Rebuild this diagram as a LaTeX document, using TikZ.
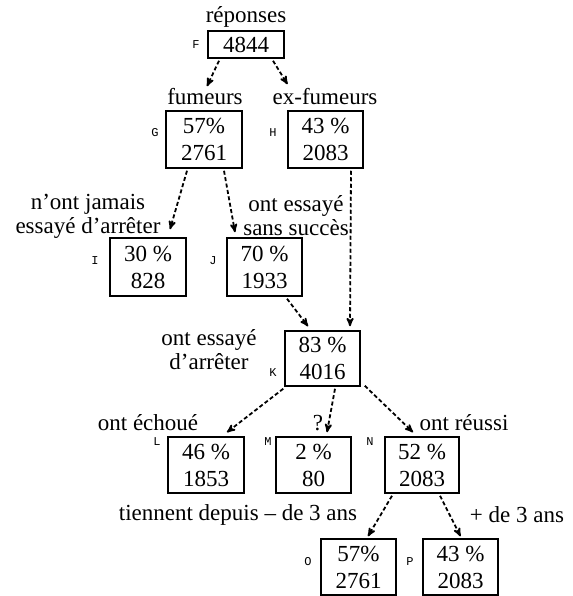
\documentclass[tikz,border=0pt]{standalone}
\usepackage{fontspec}
\setmainfont{Liberation Serif}
\newfontfamily\lettrefont{Liberation Mono}
\usetikzlibrary{arrows}
\usetikzlibrary{calc}

\tikzset{
 boite/.style={draw, line width=1.5pt, minimum width=75pt, minimum height=56pt, inner sep=0pt, align=center, font=\fontsize{23}{27}\selectfont},
 legende/.style={align=center, inner sep=0pt, font=\fontsize{23}{24}\selectfont},
 lettre/.style={inner sep=0pt, font=\lettrefont\fontsize{12}{12}\selectfont},
 fleche/.style={->, >=stealth', line width=1.8pt, dash pattern=on 4pt off 2.5pt},
}

\begin{document}
\begin{tikzpicture}[x=1pt, y=-1pt]
\useasboundingbox (0,0) rectangle (572,596);
% boxes
\node[boite, minimum width=76pt, minimum height=27pt] (F) at (246,44.5) {4844};
\node[boite, minimum width=76pt, minimum height=57pt] (G) at (204,139.5) {57\%\\2761};
\node[boite, minimum height=57pt] (H) at (325.5,139.5) {43 \%\\2083};
\node[boite, minimum width=76pt, minimum height=58pt] (I) at (148,267) {30 \%\\828};
\node[boite, minimum height=58pt] (J) at (264.5,267) {70 \%\\1933};
\node[boite, minimum height=55pt] (K) at (322.5,358.5) {83 \%\\4016};
\node[boite, minimum width=76pt] (L) at (206,465) {46 \%\\1853};
\node[boite] (M) at (313.5,465) {2 \%\\80};
\node[boite, minimum width=74pt] (N) at (422,465) {52 \%\\2083};
\node[boite] (O) at (358.5,567) {57\%\\2761};
\node[boite] (P) at (460.5,567) {43 \%\\2083};
% letters
\node[lettre] (lF) at (196,45) {F};
\node[lettre] (lG) at (155,133) {G};
\node[lettre] (lH) at (273,133) {H};
\node[lettre] (lI) at (95,261) {I};
\node[lettre] (lJ) at (213,261) {J};
\node[lettre] (lK) at (273,373) {K};
\node[lettre] (lL) at (157,442) {L};
\node[lettre] (lM) at (268,442) {M};
\node[lettre] (lN) at (370,442) {N};
\node[lettre] (lO) at (308,562) {O};
\node[lettre] (lP) at (410,562) {P};
% captions
\node[legende] (tRep) at (246,17) {réponses};
\node[legende] (tFum) at (205,97) {fumeurs};
\node[legende] (tExf) at (325,97) {ex-fumeurs};
\node[legende] (tJam) at (88,216) {n'ont jamais\\essayé d'arrêter};
\node[legende] (tSans) at (296,216) {ont essayé\\sans succès};
\node[legende] (tEss) at (209,350) {ont essayé\\d'arrêter};
\node[legende] (tEch) at (148,423) {ont échoué};
\node[legende] (tQ) at (318,423) {?};
\node[legende] (tReu) at (464,423) {ont réussi};
\node[legende] (tMoins) at (238,515) {tiennent depuis -- de 3 ans};
\node[legende] (tPlus) at (517,515) {+ de 3 ans};
% arrows
\draw[fleche] ([xshift=-27pt,yshift=-2pt]F.south) -- ([xshift=3pt,yshift=24pt]G.north);
\draw[fleche] ([xshift=27pt,yshift=-2pt]F.south) -- ([xshift=-38pt,yshift=26pt]H.north);
\draw[fleche] ([xshift=-17pt,yshift=-2pt]G.south) -- ([xshift=22pt,yshift=8pt]I.north);
\draw[fleche] ([xshift=20pt,yshift=-2pt]G.south) -- ([xshift=-29.5pt,yshift=5pt]J.north);
\draw[fleche] ([xshift=25.5pt,yshift=-2pt]H.south) -- ([xshift=27.5pt,yshift=4pt]K.north);
\draw[fleche] ([xshift=22.5pt,yshift=-2pt]J.south) -- ([xshift=-14.5pt,yshift=4pt]K.north);
\draw[fleche] ([xshift=-1pt,yshift=-2pt]K.south west) -- ([xshift=21pt,yshift=4pt]L.north);
\draw[fleche] ([xshift=12.5pt,yshift=-2pt]K.south) -- ([xshift=13.5pt,yshift=4pt]M.north);
\draw[fleche] ([xshift=4pt,yshift=1pt]K.south east) -- ([xshift=-9pt,yshift=4pt]N.north);
\draw[fleche] ([xshift=-30pt,yshift=-2pt]N.south) -- ([xshift=9.5pt,yshift=2pt]O.north);
\draw[fleche] ([xshift=18pt,yshift=-2pt]N.south) -- ([yshift=2pt]P.north);
\end{tikzpicture}
\end{document}
